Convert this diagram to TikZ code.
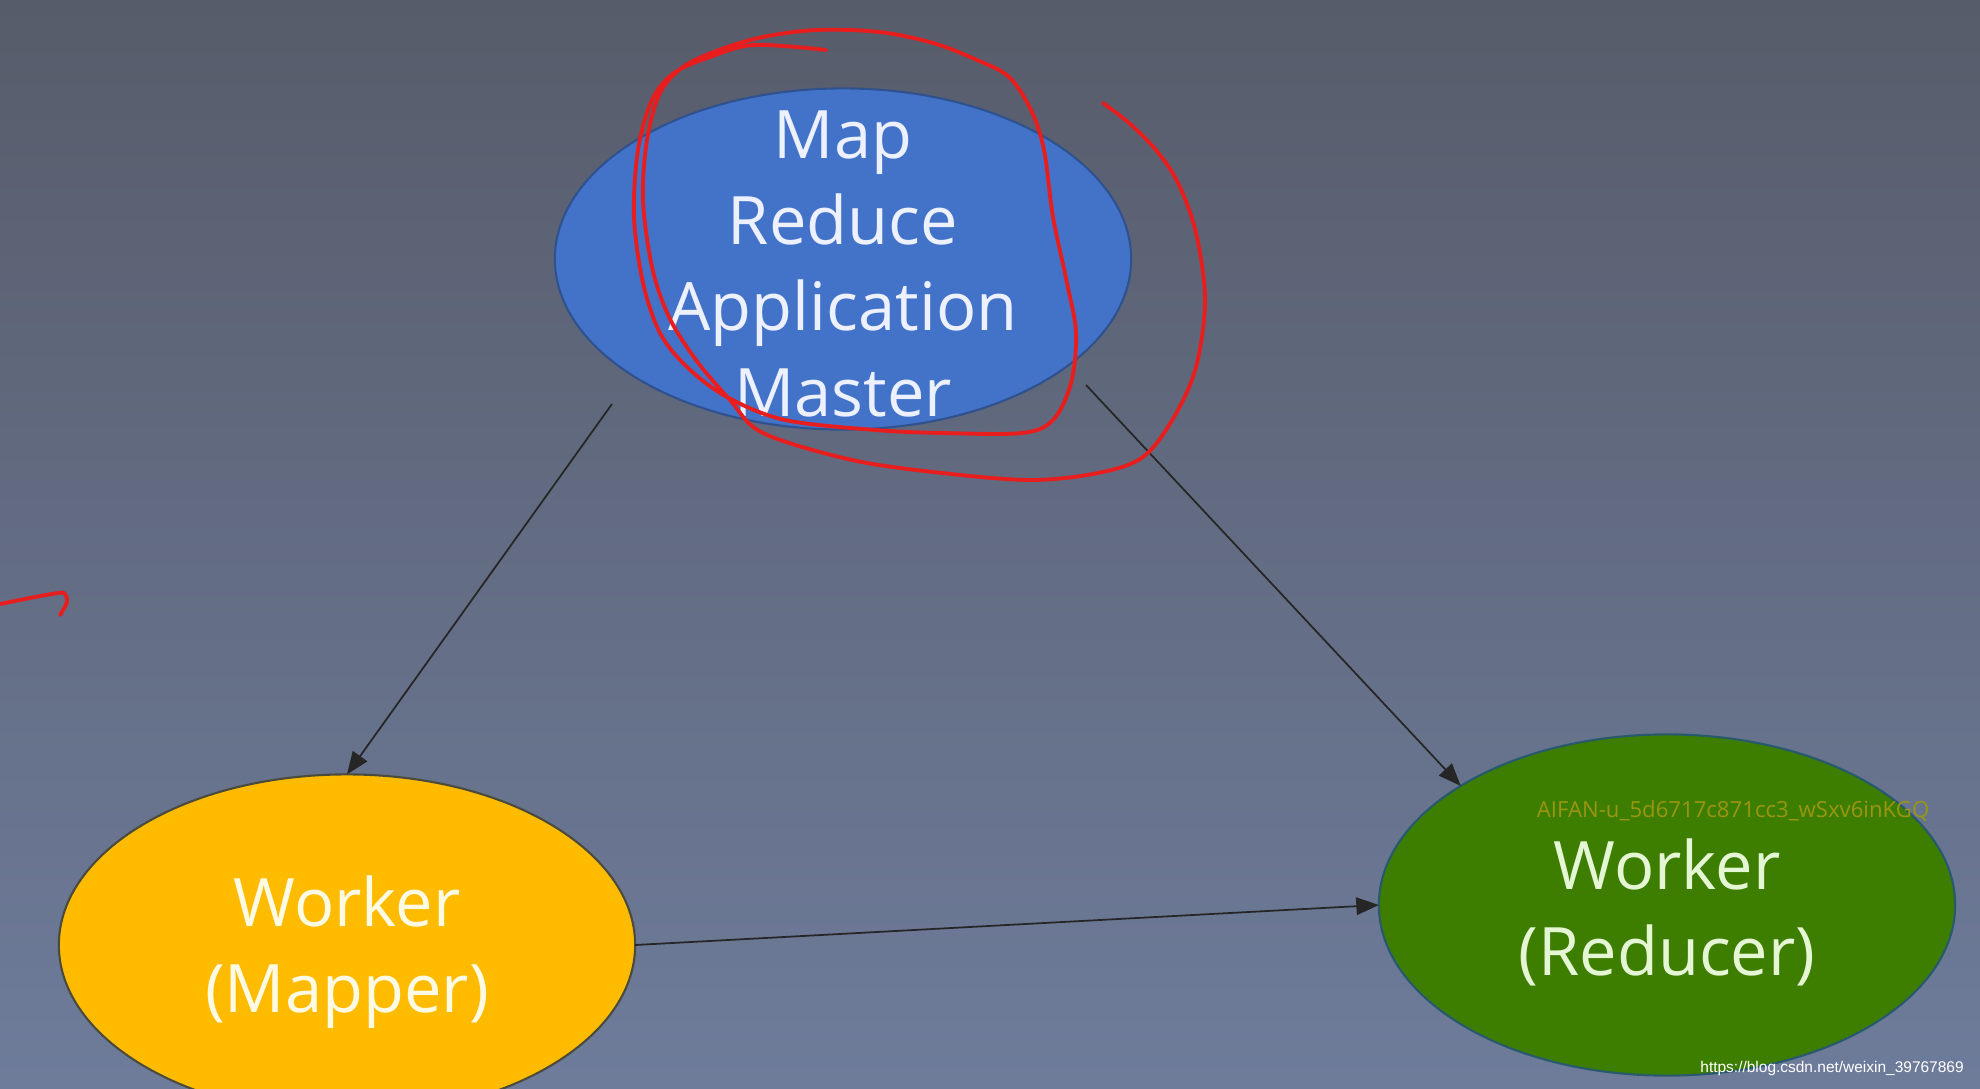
\documentclass[tikz,border=0pt]{standalone}
\usepackage{fontspec}
\setmainfont{Open Sans}
\newfontfamily\arialf{Liberation Sans}
\usetikzlibrary{shapes.geometric,arrows.meta}
\definecolor{bgtop}{RGB}{87,92,106}
\definecolor{bgbot}{RGB}{110,124,155}
\definecolor{mblue}{RGB}{67,115,200}
\definecolor{mblueb}{RGB}{47,82,143}
\definecolor{myellow}{RGB}{255,187,0}
\definecolor{myellowb}{RGB}{75,75,60}
\definecolor{mgreen}{RGB}{61,125,0}
\definecolor{mgreenb}{RGB}{40,90,110}
\definecolor{tblue}{RGB}{236,240,255}
\definecolor{tyellow}{RGB}{255,250,228}
\definecolor{tgreen}{RGB}{228,246,212}
\definecolor{wmolive}{RGB}{155,150,15}
\definecolor{scrib}{RGB}{232,30,30}
\tikzset{
  ell/.style={ellipse, minimum width=5.76cm, minimum height=3.41cm, inner sep=0pt, outer sep=0pt, line width=0.6pt},
  lbl/.style={align=center, inner sep=0pt, font=\fontsize{19}{24.5}\selectfont},
  arr/.style={line width=0.5pt, black!85, -{Triangle[length=6.4pt,width=5pt]}},
  scribble/.style={line width=1.1pt, scrib, line cap=round, line join=round},
  wm/.style={inner sep=0pt, text=wmolive, font=\fontsize{6.3}{7.5}\selectfont},
  url/.style={inner sep=0pt, text=white, font=\arialf\fontsize{4.4}{5}\selectfont}
}
\begin{document}
\begin{tikzpicture}[x=0.01cm,y=-0.01cm]
\useasboundingbox (0,0) rectangle (1980,1089);
\clip (0,0) rectangle (1980,1089);
\shade[top color=bgtop, bottom color=bgbot] (0,0) rectangle (1980,1089);

\node[ell, fill=mblue, draw=mblueb] (master) at (843,259) {};
\node[ell, fill=myellow, draw=myellowb] (mapper) at (347,945) {};
\node[ell, fill=mgreen, draw=mgreenb] (reducer) at (1667,905) {};

\node[lbl, text=tblue] (mastertxt) at (843,264) {Map\\Reduce\\Application\\Master};
\node[lbl, text=tyellow] (mappertxt) at (347,952) {Worker\\(Mapper)};
\node[lbl, text=tgreen] (reducertxt) at (1667,912) {Worker\\(Reducer)};

\coordinate (s1) at (612,404);
\coordinate (s2) at (1086,385);
\draw[arr] (s1) -- (mapper.north);
\draw[arr] (s2) -- (reducer.150);
\draw[arr] (mapper.east) -- (reducer.west);

\draw[scribble] plot[smooth, tension=0.55] coordinates {
(826,50) (754,45) (710,57) (674,73) (652,100) (638,150) (634,217) (643,283)
(660,333) (687,367) (727,397) (785,420) (875,430) (942,433) (1022,433)
(1053,420) (1071,383) (1076,333) (1067,283) (1053,217) (1044,150) (1031,110)
(1009,77) (977,60) (933,43) (879,32) (817,30) (763,37) (719,50) (683,67)
(660,93) (647,140) (643,200) (652,267) (669,317) (696,360) (730,400)
(763,433) (852,460) (942,473) (1031,480) (1098,473) (1143,457) (1174,417)
(1196,367) (1205,300) (1196,233) (1178,183) (1156,150) (1129,123) (1103,103)};
\draw[scribble] plot[smooth, tension=0.5] coordinates {
(0,604) (30,598) (52,594) (64,593) (67,602) (60,615)};

\node[wm] (wm1) at (1733,811) {AIFAN-u\_5d6717c871cc3\_wSxv6inKGQ};
\node[url] (wm2) at (1832,1068) {https://blog.csdn.net/weixin\_39767869};
\end{tikzpicture}
\end{document}
